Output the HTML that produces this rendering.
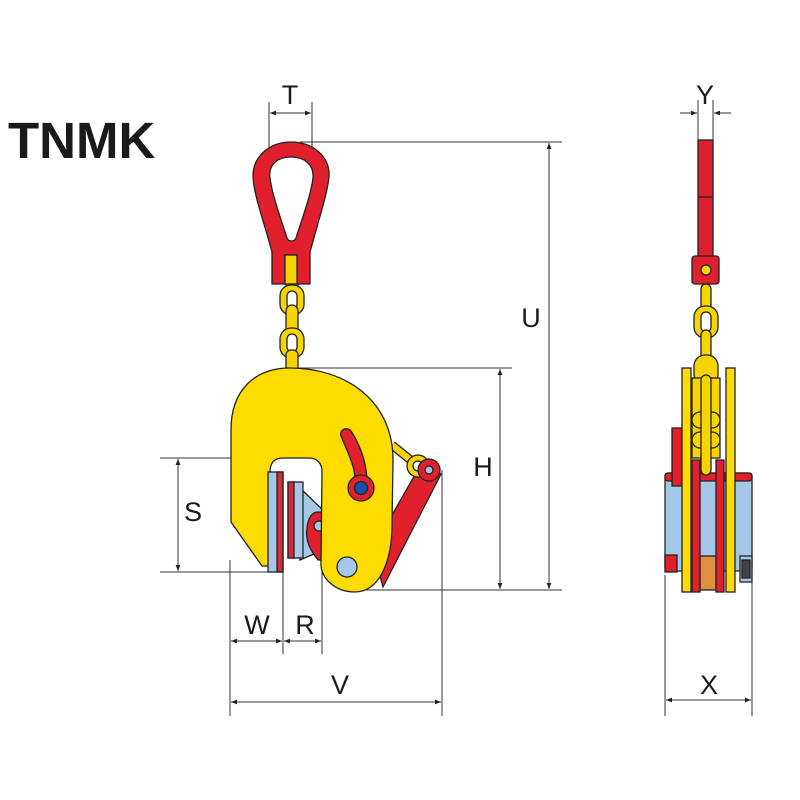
<!DOCTYPE html>
<html><head><meta charset="utf-8"><style>
html,body{margin:0;padding:0;background:#fff}
svg{display:block}
text{font-family:"Liberation Sans",sans-serif;fill:#1a1a1a}
</style></head><body>
<svg width="800" height="800" viewBox="0 0 800 800" xmlns="http://www.w3.org/2000/svg">
<defs>
<marker id="a" viewBox="0 0 10 10" refX="10" refY="5" markerWidth="8" markerHeight="6" orient="auto-start-reverse" markerUnits="userSpaceOnUse"><path d="M0,1 L10,5 L0,9 Z" fill="#222"/></marker>
</defs>
<rect width="800" height="800" fill="#fff"/>
<text x="8" y="158" font-size="51" font-weight="bold">TNMK</text>

<!-- dimension lines -->
<g stroke="#333" stroke-width="1" fill="none">
<line x1="269" y1="102" x2="269" y2="150"/><line x1="312" y1="102" x2="312" y2="150"/>
<line x1="270" y1="113" x2="311" y2="113" marker-start="url(#a)" marker-end="url(#a)"/>
<line x1="300" y1="142" x2="562" y2="142"/>
<line x1="549" y1="143" x2="549" y2="589" marker-start="url(#a)" marker-end="url(#a)"/>
<line x1="290" y1="368" x2="512" y2="368"/>
<line x1="500" y1="369" x2="500" y2="589" marker-start="url(#a)" marker-end="url(#a)"/>
<line x1="360" y1="590" x2="562" y2="590"/>
<line x1="160" y1="458" x2="272" y2="458"/><line x1="160" y1="572" x2="272" y2="572"/>
<line x1="178" y1="459" x2="178" y2="571" marker-start="url(#a)" marker-end="url(#a)"/>
<line x1="230" y1="560" x2="230" y2="716"/>
<line x1="283" y1="572" x2="283" y2="654"/>
<line x1="322" y1="560" x2="322" y2="654"/>
<line x1="442" y1="470" x2="442" y2="716"/>
<line x1="231" y1="641" x2="282" y2="641" marker-start="url(#a)" marker-end="url(#a)"/>
<line x1="284" y1="641" x2="321" y2="641" marker-start="url(#a)" marker-end="url(#a)"/>
<line x1="231" y1="702" x2="441" y2="702" marker-start="url(#a)" marker-end="url(#a)"/>
<line x1="665" y1="575" x2="665" y2="716"/><line x1="752" y1="575" x2="752" y2="716"/>
<line x1="666" y1="700" x2="751" y2="700" marker-start="url(#a)" marker-end="url(#a)"/>
<line x1="698" y1="100" x2="698" y2="142"/><line x1="713" y1="100" x2="713" y2="142"/>
<line x1="680" y1="113" x2="697" y2="113" marker-end="url(#a)"/>
<line x1="731" y1="113" x2="714" y2="113" marker-end="url(#a)"/>
</g>
<g font-size="27" text-anchor="middle">
<text x="290" y="104">T</text><text x="705" y="104">Y</text>
<text x="531" y="327">U</text><text x="483" y="476">H</text>
<text x="193" y="521">S</text><text x="257" y="634">W</text><text x="305" y="634">R</text>
<text x="340" y="694">V</text><text x="709" y="694">X</text>
</g>

<!-- FRONT VIEW -->
<g stroke="#222" stroke-width="1.3">
<!-- chain -->
<rect x="286" y="255" width="12" height="40" rx="6" fill="#f5d400"/>
<rect x="280" y="285" width="24" height="30" rx="11" fill="#f5d400"/>
<rect x="287" y="291" width="10" height="18" rx="5" fill="#fff"/>
<rect x="286" y="305" width="12" height="35" rx="6" fill="#f5d400"/>
<rect x="280" y="328" width="24" height="30" rx="11" fill="#f5d400"/>
<rect x="287" y="334" width="10" height="18" rx="5" fill="#fff"/>
<rect x="286" y="350" width="12" height="22" rx="5" fill="#f5d400"/>
<!-- shackle -->
<path d="M291 142 C312 142 330 156 329 176 C328 192 318 222 310 252 L310 284 L272 284 L272 252 C264 222 253 192 253 176 C253 156 270 142 291 142 Z M291 157 C278 157 268 164 270 178 C272 195 282 222 287 238 C289 242 294 242 296 238 C301 222 311 195 313 178 C314 164 304 157 291 157 Z" fill="#e0202c" fill-rule="evenodd"/>
<rect x="285" y="255" width="12" height="29" fill="#f5d400"/>
<!-- blue back triangle and cam -->
<path d="M300 488 L328 515 L328 548 L300 560 Z" fill="#a6c8e8"/>
<path d="M318 512 C332 512 340 525 336 540 L330 560 L318 560 C310 550 305 540 307 528 C308 518 312 512 318 512 Z" fill="#e0202c"/>
<circle cx="319" cy="526" r="5" fill="#a6c8e8"/>
<!-- red arm -->
<path d="M374 553 L392 515 L424 459 L441 474 L383 587 Z" fill="#e0202c"/>
<circle cx="381" cy="541" r="3" fill="#222"/>
<!-- yellow link -->
<line x1="392" y1="445" x2="418" y2="466" stroke="#222" stroke-width="9"/>
<line x1="392" y1="445" x2="418" y2="466" stroke="#f5d400" stroke-width="6.5"/>
<circle cx="418" cy="466" r="11" fill="#f5d400"/>
<circle cx="418" cy="466" r="5" fill="#fff"/>
<circle cx="429" cy="470" r="11" fill="#e0202c"/>
<circle cx="429" cy="470" r="4" fill="#a6c8e8"/>
<!-- body -->
<path d="M262 566 L231 522 L231 430 C231 390 255 368 290 368 C345 368 393 400 393 460 L392 525 C392 560 380 592 355 592 C335 592 320 578 321 562 L322 472 C322 463 317 458 309 458 L283 458 C275 458 270 462 270 472 L270 566 Z" fill="#ffdc00"/>
<!-- pads -->
<rect x="268" y="472" width="15" height="100" fill="#a6c8e8"/>
<rect x="277" y="472" width="6" height="100" fill="#d42a36"/>
<rect x="288" y="482" width="15" height="76" fill="#a6c8e8"/>
<rect x="288" y="482" width="6" height="76" fill="#d42a36"/>
<!-- handle -->
<path d="M341 436 C339 430 347 426 351 431 C357 440 364 455 366 470 L368 486 L356 486 L354 470 C351 458 346 448 341 436 Z" fill="#e0202c"/>
<circle cx="361" cy="488" r="13" fill="#e0202c"/>
<circle cx="361" cy="488" r="6.5" fill="#1552a8"/>
<circle cx="347" cy="567" r="10" fill="#a6c8e8"/>
</g>

<!-- SIDE VIEW -->
<g stroke="#222" stroke-width="1.3">
<rect x="665" y="473" width="87" height="98" rx="3" fill="#a6c8e8"/>
<rect x="665" y="473" width="87" height="8" rx="3" fill="#e0202c"/>
<rect x="672" y="428" width="11" height="58" fill="#e0202c"/>
<rect x="665" y="555" width="12" height="17" fill="#e0202c"/>
<rect x="700" y="556" width="16" height="34" fill="#e09040"/>
<rect x="740" y="556" width="12" height="26" fill="#a6c8e8"/>
<rect x="742" y="560" width="8" height="18" fill="#444"/>
<rect x="698" y="140" width="15" height="117" fill="#e0202c"/>
<line x1="698" y1="197" x2="713" y2="197"/>
<rect x="692" y="256" width="27" height="28" rx="3" fill="#e0202c"/>
<circle cx="706" cy="270" r="5" fill="#f5d400"/>
<rect x="701" y="284" width="10" height="30" rx="5" fill="#f5d400"/>
<rect x="694" y="306" width="24" height="32" rx="11" fill="#f5d400"/>
<rect x="701" y="312" width="10" height="20" rx="5" fill="#fff"/>
<rect x="701" y="330" width="10" height="35" rx="5" fill="#f5d400"/>
<rect x="694" y="355" width="24" height="30" rx="11" fill="#f5d400"/>
<rect x="692" y="378" width="28" height="80" fill="#f5d400"/>
<circle cx="700" cy="420" r="8" fill="#f5d400"/><circle cx="712" cy="420" r="8" fill="#f5d400"/>
<circle cx="700" cy="440" r="8" fill="#f5d400"/><circle cx="712" cy="440" r="8" fill="#f5d400"/>
<rect x="701" y="375" width="10" height="100" rx="5" fill="#f5d400"/>
<rect x="682" y="368" width="9" height="224" fill="#ffdc00"/>
<rect x="726" y="368" width="9" height="224" fill="#ffdc00"/>
<rect x="692" y="460" width="8" height="132" fill="#e0202c"/>
<rect x="716" y="460" width="8" height="132" fill="#e0202c"/>
</g>
</svg>
</body></html>
